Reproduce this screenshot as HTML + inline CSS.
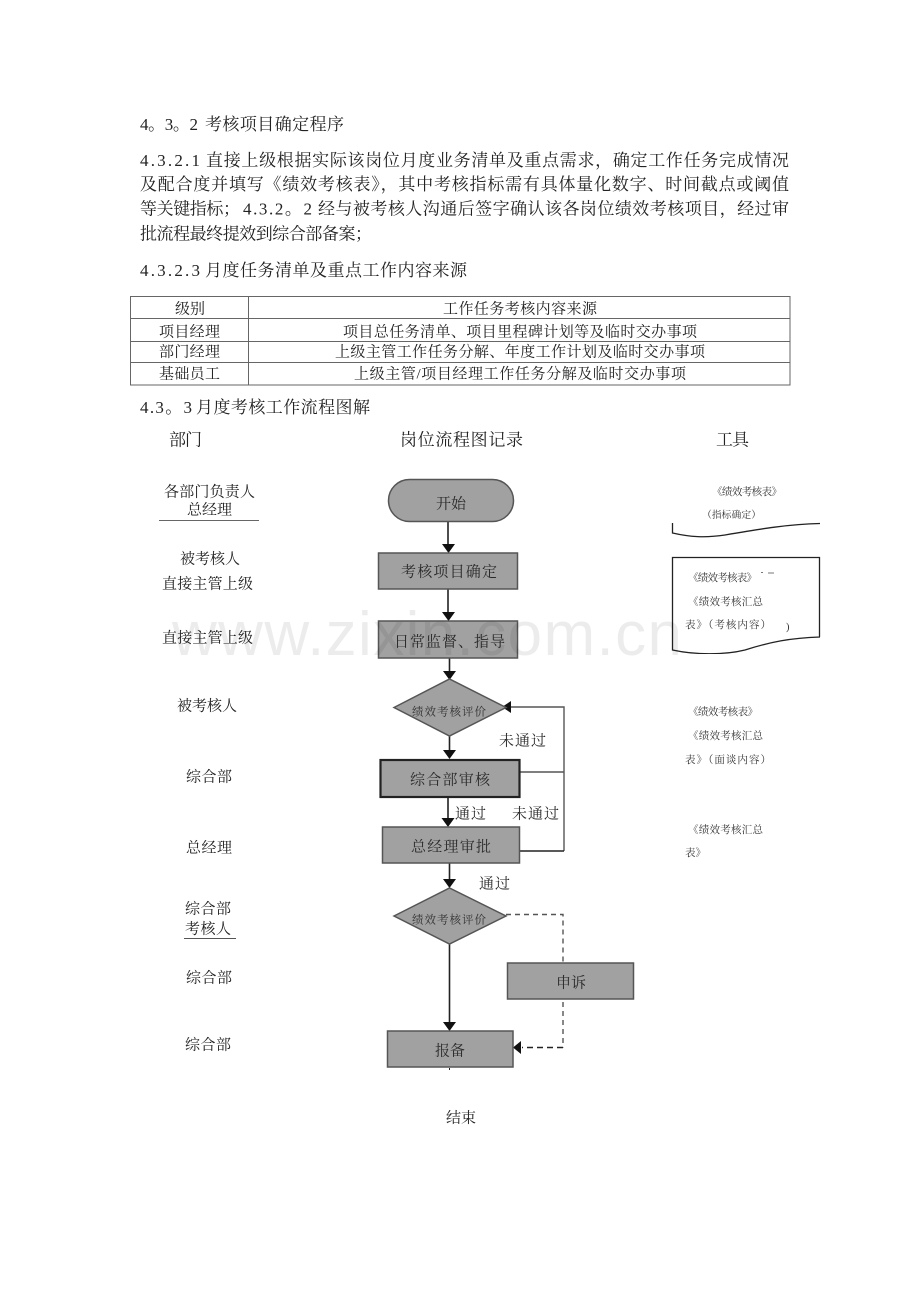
<!DOCTYPE html>
<html><head><meta charset="utf-8">
<style>
html,body{margin:0;padding:0;background:#fff;width:920px;height:1302px;overflow:hidden}
svg{display:block;filter:blur(.35px)}
text{font-family:"Liberation Serif","Noto Serif CJK SC",serif;dominant-baseline:central;fill:#222;transform:translateY(1.5px)}
.b{font-size:17px;transform:translateY(.5px)}
.t{font-size:15px}
.l{font-size:15px}
.s{font-size:10.5px;fill:#333}
.f{font-size:15px;fill:#2a2a2a}
.n{font-size:11.5px;fill:#333}
.box{fill:#a1a1a1;stroke:#555;stroke-width:1.5}
.dk{fill:#a1a1a1;stroke:#222;stroke-width:2.2}
.ln{fill:none;stroke:#222;stroke-width:1.6}
.gl{fill:none;stroke:#555;stroke-width:1.4}
.da{fill:none;stroke:#555;stroke-width:1.4;stroke-dasharray:5 4}
.ar{fill:#111}
</style></head><body>
<svg width="920" height="1302" viewBox="0 0 920 1302" xmlns="http://www.w3.org/2000/svg">
<rect width="920" height="1302" fill="#fff"/>

<!-- paragraph text -->
<text class="b" x="140" y="124" textLength="58">4。3。2</text>
<text class="b" x="205" y="124" textLength="139">考核项目确定程序</text>
<text class="b" x="140" y="160" textLength="60">4.3.2.1</text>
<text class="b" x="206" y="160" textLength="583">直接上级根据实际该岗位月度业务清单及重点需求，确定工作任务完成情况</text>
<text class="b" x="140" y="184" textLength="649">及配合度并填写《绩效考核表》，其中考核指标需有具体量化数字、时间截点或阈值</text>
<text class="b" x="140" y="208.5" textLength="100">等关键指标；</text>
<text class="b" x="243" y="208.5" textLength="69">4.3.2。2</text>
<text class="b" x="318" y="208.5" textLength="471">经与被考核人沟通后签字确认该各岗位绩效考核项目，经过审</text>
<text class="b" x="140" y="233.5" textLength="232">批流程最终提效到综合部备案；</text>
<text class="b" x="140" y="270" textLength="60">4.3.2.3</text>
<text class="b" x="205" y="270" textLength="262">月度任务清单及重点工作内容来源</text>

<!-- table -->
<rect x="130.5" y="296.5" width="659.5" height="88.5" fill="none" stroke="#666" stroke-width="1"/>
<path d="M130 318.5H790M130 341.5H790M130 362.5H790M248.5 296V385" fill="none" stroke="#666" stroke-width="1"/>
<text class="t" x="175" y="308" textLength="30">级别</text>
<text class="t" x="443" y="308" textLength="154">工作任务考核内容来源</text>
<text class="t" x="159" y="331" textLength="61">项目经理</text>
<text class="t" x="343" y="331" textLength="354">项目总任务清单、项目里程碑计划等及临时交办事项</text>
<text class="t" x="159" y="351" textLength="61">部门经理</text>
<text class="t" x="335" y="351" textLength="370">上级主管工作任务分解、年度工作计划及临时交办事项</text>
<text class="t" x="159" y="373" textLength="61">基础员工</text>
<text class="t" x="354" y="373" textLength="332">上级主管/项目经理工作任务分解及临时交办事项</text>

<text class="b" x="140" y="407" textLength="52">4.3。3</text>
<text class="b" x="196" y="407" textLength="174">月度考核工作流程图解</text>

<!-- column headers -->
<text class="b" x="169" y="439.5" textLength="33">部门</text>
<text class="b" x="400" y="439.5" textLength="123">岗位流程图记录</text>
<text class="b" x="716" y="439.5" textLength="33">工具</text>

<!-- left column -->
<text class="l" x="164" y="491" textLength="91">各部门负责人</text>
<text class="l" x="187" y="509" textLength="45">总经理</text>
<path d="M159 520.5H259" stroke="#666" stroke-width="1" fill="none"/>
<text class="l" x="180" y="558" textLength="60">被考核人</text>
<text class="l" x="162" y="583" textLength="91">直接主管上级</text>
<text class="l" x="162" y="637" textLength="91">直接主管上级</text>
<text class="l" x="177" y="705" textLength="60">被考核人</text>
<text class="l" x="186" y="776" textLength="46">综合部</text>
<text class="l" x="186" y="847" textLength="46">总经理</text>
<text class="l" x="185" y="908" textLength="46">综合部</text>
<text class="l" x="185" y="928" textLength="46">考核人</text>
<path d="M184 938.5H236" stroke="#555" stroke-width="1" fill="none"/>
<text class="l" x="186" y="977" textLength="46">综合部</text>
<text class="l" x="185" y="1044" textLength="46">综合部</text>
<text class="l" x="446" y="1117" textLength="30">结束</text>

<!-- connectors -->
<path class="ln" d="M448 522V546M448 589V614M449.5 658V674M449.5 736V752M448 797V820M449.5 863V882M449.5 944V1024"/>
<path class="ar" d="M442 544H455L448.5 553ZM442 612H455L448.5 621ZM443 671H456L449.5 680ZM443 750H456L449.5 759ZM441.5 818H454.5L448 827ZM443 879H456L449.5 888ZM443 1022H456L449.5 1031Z"/>
<path class="gl" d="M505 707H564V851M520 772H564"/>
<path d="M520 851H564" stroke="#222" stroke-width="1.6" fill="none"/>
<path class="ar" d="M502 707L511 701V713Z"/>
<path class="da" d="M506 914.5H563V963M563 1002V1047.5"/>
<path d="M563 1047.5H522" fill="none" stroke="#222" stroke-width="1.4" stroke-dasharray="6 4"/>
<path class="ar" d="M513 1047.5L521 1041V1054Z"/>
<path d="M449.5 1068V1070" stroke="#222" stroke-width="1"/>

<!-- nodes -->
<rect class="box" x="388.5" y="479.5" width="125" height="42" rx="21" ry="21"/>
<rect class="box" x="378.5" y="553" width="139" height="36"/>
<rect class="box" x="378.5" y="621" width="139" height="37"/>
<polygon class="box" points="394,707.5 449.5,679 506,707.5 449.5,736"/>
<rect class="dk" x="380.5" y="760" width="139" height="37"/>
<rect class="box" x="382.5" y="827" width="137" height="36"/>
<polygon class="box" points="394,916 449.5,888 506,916 449.5,944"/>
<rect class="box" x="507.5" y="963" width="126" height="36"/>
<rect class="box" x="387.5" y="1031" width="125.5" height="36"/>

<text class="f" x="436" y="503" textLength="30">开始</text>
<text class="f" x="401" y="571" textLength="96">考核项目确定</text>
<text class="f" x="394" y="641" textLength="111">日常监督、指导</text>
<text class="n" x="412" y="711" textLength="74">绩效考核评价</text>
<text class="f" x="410" y="779" textLength="80">综合部审核</text>
<text class="f" x="411" y="846" textLength="80">总经理审批</text>
<text class="n" x="412" y="919" textLength="74">绩效考核评价</text>
<text class="f" x="556" y="982" textLength="30">申诉</text>
<text class="f" x="435" y="1050" textLength="30">报备</text>

<text class="f" x="499" y="740" textLength="47">未通过</text>
<text class="f" x="455" y="813" textLength="31">通过</text>
<text class="f" x="512" y="813" textLength="47">未通过</text>
<text class="f" x="479" y="883" textLength="31">通过</text>

<!-- tools -->
<text class="s" x="712" y="491" textLength="70">《绩效考核表》</text>
<text class="s" x="702" y="514" textLength="59" style="font-size:9.8px">（指标确定）</text>
<path d="M672.5 523V533C690 537 705 538 725 535C760 529 790 524 820 523.5" fill="none" stroke="#222" stroke-width="1.3"/>
<path d="M820 637C790 638 770 642 745 650C725 655 695 655 672.5 650V557.5H819.5V637" fill="none" stroke="#222" stroke-width="1.3"/>
<path d="M690 655H745" stroke="#fff" stroke-width="2"/>
<text class="s" x="688" y="577" textLength="69">《绩效考核表》</text>
<path d="M761 572.5h2M768 573h6" stroke="#777" stroke-width="1"/>
<text class="s" x="688" y="601" textLength="75">《绩效考核汇总</text>
<text class="s" x="685" y="624" textLength="86">表》（考核内容）</text>
<text class="s" x="786" y="626">)</text>
<text class="s" x="688" y="711" textLength="70">《绩效考核表》</text>
<text class="s" x="688" y="735" textLength="75">《绩效考核汇总</text>
<text class="s" x="685" y="759" textLength="86">表》（面谈内容）</text>
<text class="s" x="688" y="829" textLength="75">《绩效考核汇总</text>
<text class="s" x="685" y="852" textLength="21">表》</text>

<!-- watermark -->
<text x="172" y="633" textLength="510" style="font-family:'Liberation Sans',sans-serif;font-size:62px;fill:#000;fill-opacity:.075">www.zixin.com.cn</text>
</svg>
</body></html>
